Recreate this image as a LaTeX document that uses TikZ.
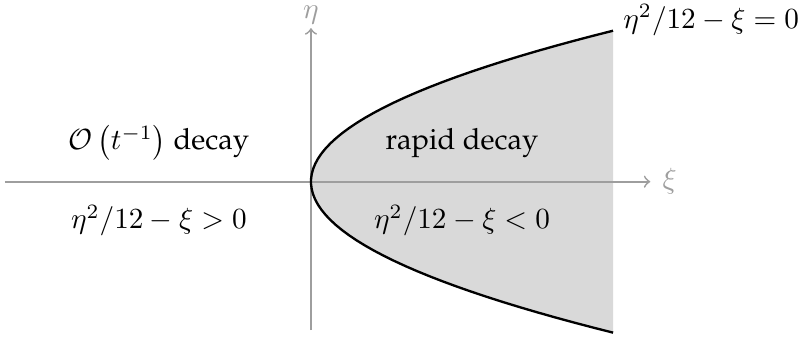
\documentclass[tikz,border=0pt]{standalone}
\usepackage[T1]{fontenc}
\renewcommand{\rmdefault}{ppl}
\usepackage{tikz}
\usetikzlibrary{positioning}

\begin{document}
\begin{tikzpicture}[x=34.5pt, y=8.62pt,
        axis/.style={draw=black!38, line width=0.6pt, ->},
        axlbl/.style={text=black!38, inner sep=1pt},
        region/.style={fill=black!15, draw=none},
        curve/.style={draw=black, thick},
        lbl/.style={align=center}]
        \useasboundingbox (-3.088,-6.23) rectangle (4.866,7.22);
        % shaded region right of the parabola
        \fill[region] plot[domain=-6:6, samples=60] ({\x*\x/12}, \x) -- cycle;
        % axes
        \coordinate (xl) at (-3.04,0);
        \coordinate (xr) at (3.37,0);
        \coordinate (yb) at (0,-5.9);
        \coordinate (yt) at (0,6.1);
        \draw[axis] (xl) -- (xr);
        \draw[axis] (yb) -- (yt);
        \node[axlbl, right=3pt of xr] (xi) {$\xi$};
        \node[axlbl] (eta) at (0,6.62) {$\eta$};
        % boundary curve
        \draw[curve] plot[domain=-6:6, samples=60] ({\x*\x/12}, \x);
        \coordinate (ctop) at (3,6.43);
        \node[anchor=west] (bnd) at (ctop) {$\eta^2/12-\xi=0$};
        % region labels
        \node[lbl] (slow) at (-1.51,1.55) {$\mathcal{O}\left(t^{-1}\right)$ decay};
        \node[lbl] (slowc) at (-1.51,-1.55) {$\eta^2/12-\xi>0$};
        \node[lbl] (fast) at (1.5,1.55) {rapid decay};
        \node[lbl] (fastc) at (1.5,-1.55) {$\eta^2/12-\xi<0$};
\end{tikzpicture}
\end{document}
